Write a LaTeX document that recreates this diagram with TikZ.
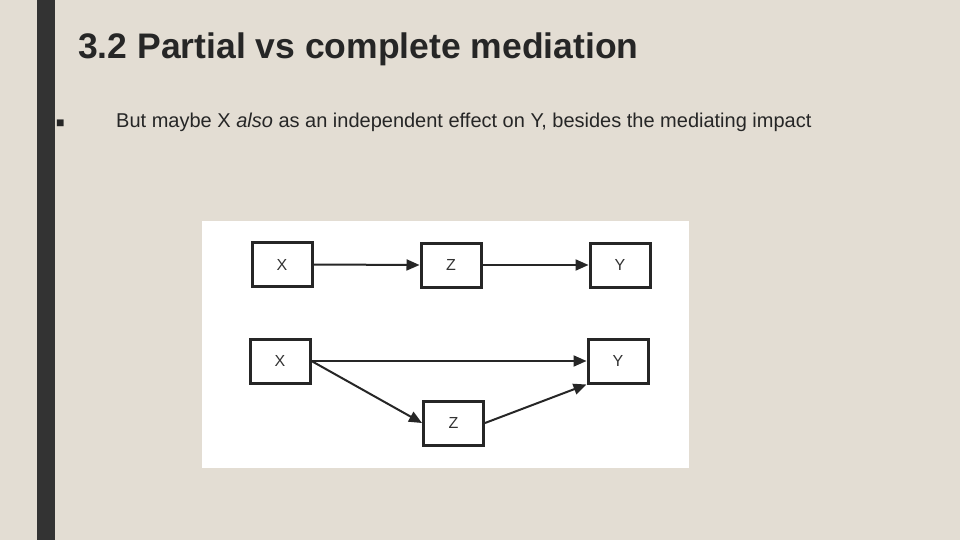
\documentclass[tikz,border=0pt]{standalone}
\usepackage{fontspec}
\setmainfont{Liberation Sans}
\usetikzlibrary{arrows.meta}
\definecolor{bg}{HTML}{E3DDD3}
\definecolor{bar}{HTML}{333333}
\begin{document}
\begin{tikzpicture}[x=1pt,y=-1pt,
  box/.style={draw=black!85,line width=3pt,minimum width=60pt,minimum height=44pt,inner sep=0pt,font=\fontsize{16}{16}\selectfont,text=black!80},
  arr/.style={line width=2pt,draw=black!85,-{Triangle[length=13pt,width=11pt]}}]
\fill[bg] (0,0) rectangle (960,540);
\useasboundingbox (0,0) rectangle (960,540);
\fill[bar] (37,0) rectangle (55,540);
\node[anchor=base west,font=\bfseries\fontsize{35.5}{35.5}\selectfont,text=black!85,inner sep=0pt] (title) at (78,59) {3.2 Partial vs complete mediation};
\node[anchor=base west,font=\fontsize{14}{14}\selectfont,text=black!85,inner sep=0pt] (bul) at (56,128) {■};
\node[anchor=base west,font=\fontsize{20}{20}\selectfont,text=black!85,inner sep=0pt] (txt) at (116,128) {But maybe X \textit{also} as an independent effect on Y, besides the mediating impact};
\fill[white] (202,221) rectangle (689,468);
\node[box] (x1) at (282,264.5) {X};
\node[box] (z1) at (451,265) {Z};
\node[box] (y1) at (620,265) {Y};
\node[box] (x2) at (280,361) {X};
\node[box] (y2) at (618,361) {Y};
\node[box] (z2) at (453.5,423) {Z};
\draw[arr] (x1.east) -- (z1.west);
\draw[arr] (z1.east) -- (y1.west);
\draw[arr] (x2.east) -- (y2.west);
\draw[arr] (x2.east) -- (z2.west);
\draw[arr] (z2.east) -- (y2.south west);
\end{tikzpicture}
\end{document}
